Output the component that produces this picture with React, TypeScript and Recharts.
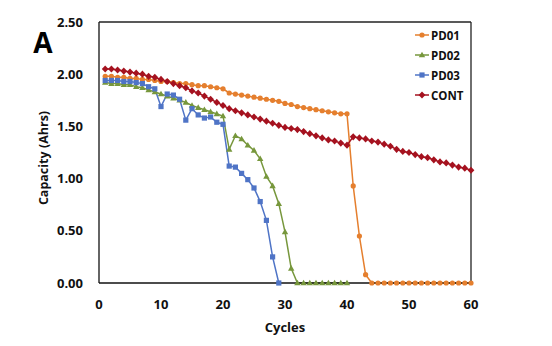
import React from 'react';
import {
  LineChart, Line, XAxis, YAxis, CartesianGrid,
} from 'recharts';

const cycles = Array.from({ length: 60 }, (_, i) => i + 1);

const pd01 = [
  1.98, 1.98, 1.97, 1.97, 1.96, 1.96, 1.95, 1.95, 1.94, 1.93,
  1.93, 1.92, 1.91, 1.91, 1.9, 1.89, 1.89, 1.88, 1.87, 1.86,
  1.82, 1.81, 1.8, 1.79, 1.78, 1.77, 1.76, 1.75, 1.74, 1.72,
  1.71, 1.69, 1.68, 1.67, 1.66, 1.65, 1.64, 1.63, 1.62, 1.62,
  0.93, 0.45, 0.08, 0, 0, 0, 0, 0, 0, 0,
  0, 0, 0, 0, 0, 0, 0, 0, 0, 0,
];

const pd02 = [
  1.92, 1.91, 1.91, 1.9, 1.9, 1.88, 1.87, 1.85, 1.83, 1.81,
  1.79, 1.77, 1.75, 1.73, 1.7, 1.68, 1.66, 1.64, 1.62, 1.6,
  1.28, 1.41, 1.38, 1.32, 1.27, 1.19, 1.02, 0.93, 0.76, 0.49,
  0.14, 0, 0, 0, 0, 0, 0, 0, 0, 0,
];

const pd03 = [
  1.94, 1.94, 1.94, 1.93, 1.93, 1.92, 1.91, 1.88, 1.86, 1.69,
  1.81, 1.8, 1.76, 1.56, 1.67, 1.61, 1.58, 1.59, 1.54, 1.52,
  1.12, 1.11, 1.05, 0.99, 0.91, 0.78, 0.6, 0.25, 0,
];

const cont = [
  2.05, 2.05, 2.04, 2.03, 2.02, 2.01, 2.0, 1.98, 1.97, 1.95,
  1.93, 1.91, 1.89, 1.87, 1.84, 1.82, 1.79, 1.76, 1.73, 1.7,
  1.67, 1.65, 1.63, 1.61, 1.59, 1.57, 1.55, 1.53, 1.51, 1.49,
  1.48, 1.47, 1.45, 1.43, 1.41, 1.39, 1.37, 1.36, 1.34, 1.32,
  1.4, 1.39, 1.38, 1.36, 1.35, 1.33, 1.31, 1.28, 1.26, 1.25,
  1.23, 1.21, 1.2, 1.18, 1.16, 1.15, 1.13, 1.11, 1.1, 1.08,
];

const xTicks = [0, 10, 20, 30, 40, 50, 60];
const yTicks = [0, 0.5, 1, 1.5, 2, 2.5];

const series = [
  { key: 'PD01', color: '#E57F2E', shape: 'circle' },
  { key: 'PD02', color: '#77973C', shape: 'triangle' },
  { key: 'PD03', color: '#4F74C6', shape: 'square' },
  { key: 'CONT', color: '#A5121F', shape: 'diamond' },
];

const data = cycles.map((c, i) => ({
  cycle: c,
  PD01: pd01[i] ?? null,
  PD02: pd02[i] ?? null,
  PD03: pd03[i] ?? null,
  CONT: cont[i] ?? null,
}));

const FONT = '"Open Sans", "Liberation Sans", sans-serif';

function Marker({ shape, x, y, color }: { shape: string; x: number; y: number; color: string }) {
  if (shape === 'circle') return <circle cx={x} cy={y} r={2.6} fill={color} />;
  if (shape === 'triangle') {
    return <path d={`M${x},${y - 3.3}L${x + 3.2},${y + 2.3}L${x - 3.2},${y + 2.3}Z`} fill={color} />;
  }
  if (shape === 'square') return <rect x={x - 2.6} y={y - 2.6} width={5.2} height={5.2} fill={color} />;
  return <path d={`M${x},${y - 3.6}L${x + 3.4},${y}L${x},${y + 3.6}L${x - 3.4},${y}Z`} fill={color} />;
}

const makeDot = (shape: string, color: string) => (props: any) => {
  const { cx, cy, index, payload, dataKey } = props;
  if (cx == null || cy == null || payload?.[dataKey] == null) return <g key={`e-${index}`} />;
  return (
    <g key={`d-${index}`}>
      <Marker shape={shape} x={cx} y={cy} color={color} />
    </g>
  );
};

// legend drawn on top of the chart, no space reserved
function LegendBox() {
  return (
    <div
      style={{
        position: 'absolute', top: 25, left: 414,
        fontFamily: FONT, fontWeight: 700, fontSize: 11.5, color: '#111',
      }}
    >
      {series.map((s) => (
        <div key={s.key} style={{ display: 'flex', alignItems: 'center', height: 20 }}>
          <svg width={16} height={10} style={{ marginRight: 1 }}>
            <line x1={1} y1={5} x2={15} y2={5} stroke={s.color} strokeWidth={1.5} />
            <Marker shape={s.shape} x={8} y={5} color={s.color} />
          </svg>
          <span>{s.key}</span>
        </div>
      ))}
    </div>
  );
}

export default function App() {
  const tick = { fill: '#111', fontSize: 13, fontWeight: 700, fontFamily: FONT };
  return (
    <div style={{ position: 'absolute', left: 0, top: 0, width: 552, height: 346, background: '#fff' }}>
      <LineChart
        width={552}
        height={346}
        data={data}
        margin={{ top: 22, right: 81, bottom: 0, left: 0 }}
      >
        {/* right edge of the frame */}
        <CartesianGrid
          horizontal={false}
          verticalValues={[60]}
          stroke="#222"
          strokeWidth={1.3}
          strokeDasharray=""
        />
        <XAxis
          dataKey="cycle"
          type="number"
          domain={[0, 60]}
          ticks={xTicks}
          tick={tick}
          tickLine={false}
          tickSize={0}
          tickMargin={17}
          axisLine={{ stroke: '#111', strokeWidth: 1.3 }}
          height={63}
          label={{
            content: () => (
              <text x={285} y={332} textAnchor="middle" fontFamily={FONT} fontWeight={700} fontSize={13} fill="#111">
                Cycles
              </text>
            ),
          }}
        />
        <YAxis
          type="number"
          domain={[0, 2.5]}
          ticks={yTicks}
          tick={tick}
          tickLine={false}
          tickSize={0}
          tickMargin={16}
          width={99}
          tickFormatter={(v: number) => v.toFixed(2)}
          axisLine={{ stroke: '#111', strokeWidth: 1.3 }}
          label={{
            content: () => (
              <g>
                <text x={43} y={53} textAnchor="middle" fontFamily={FONT} fontWeight={700} fontSize={28} fill="#000">
                  A
                </text>
                <text
                  x={48}
                  y={158}
                  transform="rotate(-90 48 158)"
                  textAnchor="middle"
                  fontFamily={FONT}
                  fontWeight={700}
                  fontSize={12.5}
                  fill="#111"
                >
                  Capacity (Ahrs)
                </text>
                {/* top edge of the frame */}
                <line x1={99} y1={22} x2={471} y2={22} stroke="#222" strokeWidth={1.3} />
              </g>
            ),
          }}
        />
        {series.map((s) => (
          <Line
            key={s.key}
            dataKey={s.key}
            stroke={s.color}
            strokeWidth={1.5}
            dot={makeDot(s.shape, s.color)}
            activeDot={false}
            isAnimationActive={false}
            connectNulls={false}
          />
        ))}
      </LineChart>
      <LegendBox />
    </div>
  );
}
